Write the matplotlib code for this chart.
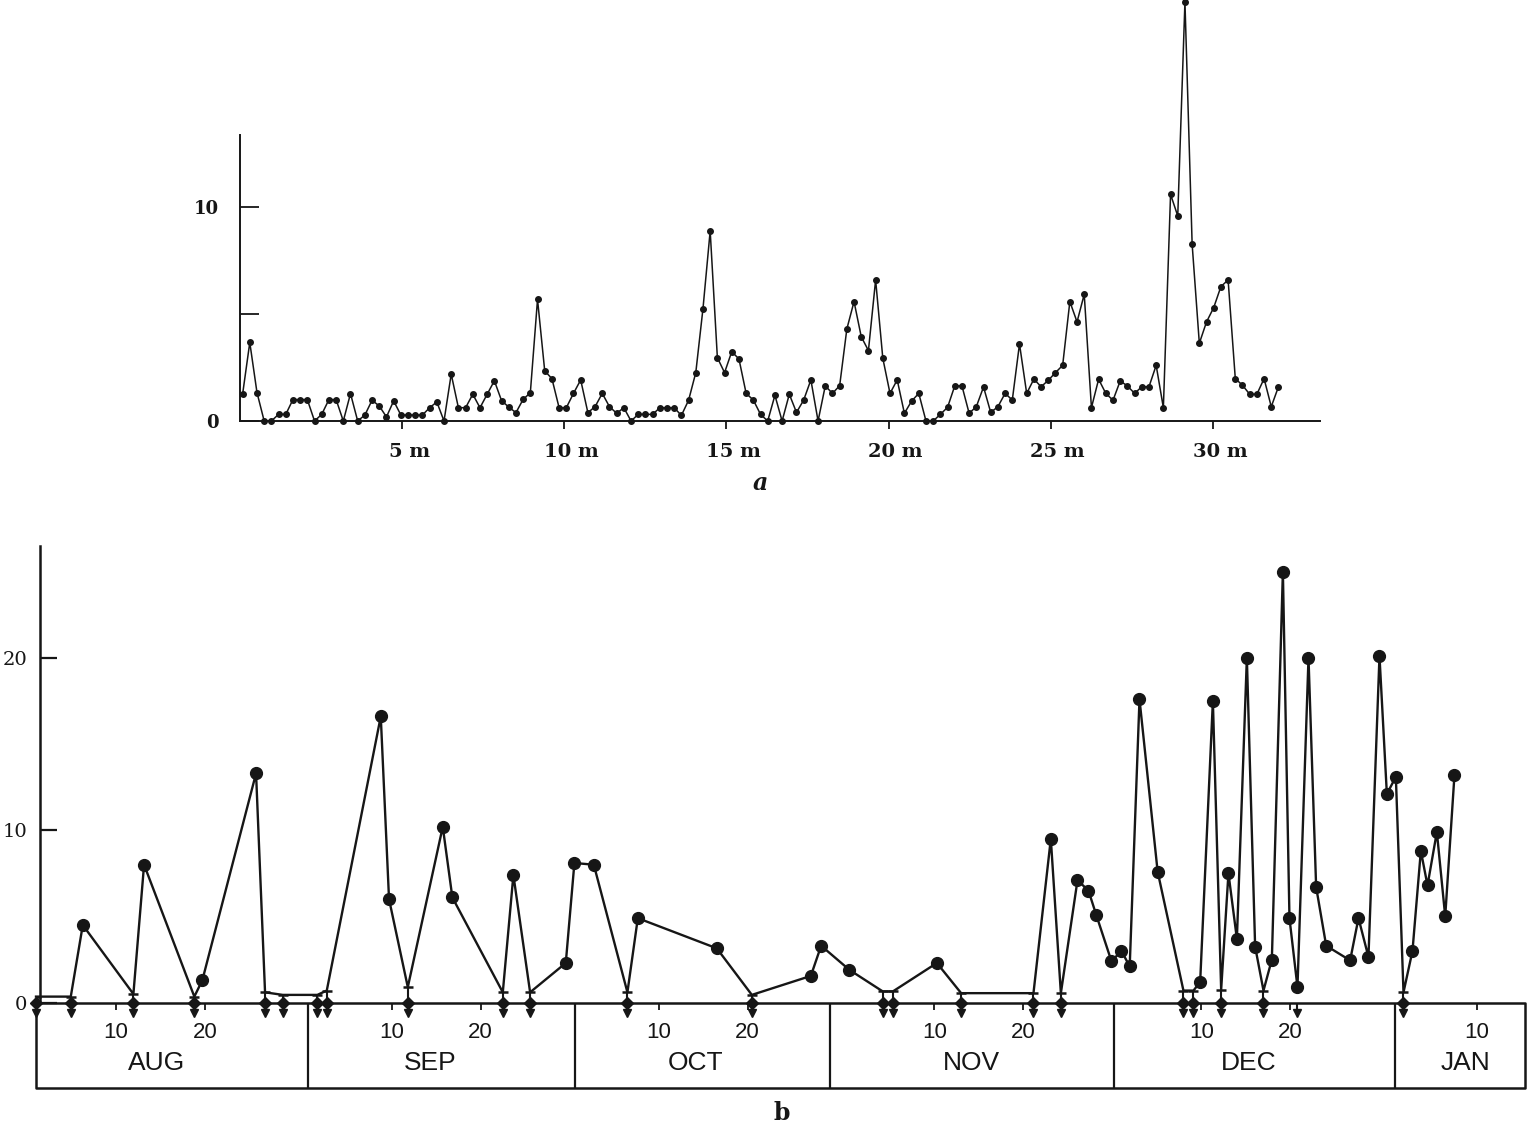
import numpy as np
import matplotlib
matplotlib.use("Agg")
import matplotlib.pyplot as plt
from matplotlib.transforms import ScaledTranslation

# ---- panel a: counts, one sample about every 0.222 min ----
a_values = [1.25, 3.67, 1.33, 0, 0, 0.31, 0.31, 1.0, 1.0, 1.0,
            0, 0.31, 1.0, 1.0, 0, 1.28, 0, 0.28, 0.97, 0.7,
            0.19, 0.94, 0.28, 0.28, 0.28, 0.28, 0.62, 0.89, 0, 2.19,
            0.62, 0.62, 1.25, 0.62, 1.25, 1.88, 0.95, 0.65, 0.39, 1.01,
            1.32, 5.68, 2.34, 1.98, 0.62, 0.62, 1.29, 1.92, 0.39, 0.67,
            1.29, 0.67, 0.36, 0.62, 0, 0.31, 0.31, 0.31, 0.62, 0.62,
            0.62, 0.26, 0.97, 2.26, 5.25, 8.88, 2.96, 2.26, 3.24, 2.9,
            1.29, 0.98, 0.31, 0, 1.2, 0, 1.25, 0.4, 0.98, 1.92,
            0, 1.64, 1.29, 1.65, 4.3, 5.58, 3.94, 3.29, 6.59, 2.93,
            1.29, 1.92, 0.36, 0.93, 1.29, 0, 0, 0.31, 0.64, 1.64,
            1.64, 0.36, 0.67, 1.59, 0.4, 0.67, 1.29, 0.98, 3.6, 1.29,
            1.96, 1.6, 1.9, 2.26, 2.6, 5.58, 4.63, 5.92, 0.62, 1.95,
            1.29, 0.97, 1.87, 1.64, 1.29, 1.6, 1.6, 2.6, 0.62, 10.59,
            9.58, 19.58, 8.26, 3.63, 4.63, 5.3, 6.28, 6.59, 1.98, 1.67,
            1.25, 1.25, 1.98, 0.67, 1.6]
a_start_min = 0.08
a_step_min = 0.2218
a_ticks = [5, 10, 15, 20, 25, 30]
a_ticklabels = ['5 m', '10 m', '15 m', '20 m', '25 m', '30 m']

# ---- panel b: day number counted from 1 Aug (= 1) ----
b_days = [6.26, 13.15, 19.70, 25.74, 39.76, 40.69, 46.73, 47.81, 54.67, 60.56,
          61.53, 63.71, 68.66, 77.54, 88.11, 89.27, 92.45, 102.28, 115.09, 118.09,
          119.32, 120.19, 121.91, 123.03, 123.96, 125.06, 127.10, 131.88, 133.31, 135.06,
          136.01, 137.13, 138.06, 139.94, 141.18, 141.92, 142.82, 144.06, 144.92, 146.05,
          148.74, 149.68, 150.80, 152.04, 152.87, 153.88, 155.75, 156.69, 157.44, 158.49,
          159.43, 160.47]
b_values = [4.5, 8.0, 1.3, 13.3, 16.6, 6.0, 10.2, 6.1, 7.4, 2.3,
            8.1, 8.0, 4.9, 3.15, 1.55, 3.3, 1.9, 2.3, 9.5, 7.1,
            6.5, 5.1, 2.4, 3.0, 2.1, 17.6, 7.6, 1.2, 17.5, 7.5,
            3.7, 20.0, 3.25, 2.5, 25.0, 4.9, 0.9, 20.0, 6.7, 3.3,
            2.45, 4.9, 2.65, 20.1, 12.1, 13.1, 3.0, 8.8, 6.8, 9.9,
            5.0, 13.2]
# upper limits (day, level of the bar)
lim_days = [1.0, 4.91, 11.95, 18.80, 26.75, 28.74, 32.63, 33.69, 42.80, 53.48,
            56.55, 67.49, 81.48, 96.20, 97.33, 105.01, 113.14, 116.22, 130.0, 131.13,
            134.24, 139.0, 154.74]
lim_levels = [0.35, 0.35, 0.5, 0.35, 0.6, 0.45, 0.45, 0.7, 0.9, 0.6,
              0.6, 0.6, 0.45, 0.65, 0.65, 0.55, 0.55, 0.55, 0.7, 0.7,
              0.75, 0.7, 0.6]
arrow_days = [142.82]

month_names = ['AUG', 'SEP', 'OCT', 'NOV', 'DEC', 'JAN']
month_label_days = [14.6, 45.3, 75.1, 106.2, 137.3, 161.7]
month_edges = [31.6, 61.6, 90.3, 122.2, 153.8]
day_ticks = [10, 20, 41, 51, 71, 81, 102, 112, 132, 142, 163]
day_ticklabels = ['10', '20', '10', '20', '10', '20', '10', '20', '10', '20', '10']

ink = '#161616'
W, H = 1528, 1125
fig = plt.figure(figsize=(W / 100, H / 100), dpi=100)


def rect(x0, y0, x1, y1):
    return [x0 / W, 1 - y1 / H, (x1 - x0) / W, (y1 - y0) / H]


# panel a
axa = fig.add_axes(rect(240, 0, 1320, 421))
t = a_start_min + a_step_min * np.arange(len(a_values))
axa.plot(t, a_values, '-o', color=ink, lw=1.1, ms=4.0, clip_on=False, zorder=3)
axa.set_xlim(0, 33.3)
axa.set_ylim(0, 19.67)
for s in ['top', 'right']:
    axa.spines[s].set_visible(False)
axa.spines['left'].set_bounds(0, 13.36)
for s in ['left', 'bottom']:
    axa.spines[s].set_linewidth(1.4)
    axa.spines[s].set_color(ink)
axa.set_yticks([0, 5, 10])
axa.set_yticklabels(['0', '', '10'], family='DejaVu Serif', weight='bold', fontsize=13)
axa.set_xticks(a_ticks)
axa.set_xticklabels(a_ticklabels, family='DejaVu Serif', weight='bold', fontsize=14)
axa.tick_params(axis='y', direction='in', length=14, width=1.3, pad=15, colors=ink)
axa.tick_params(axis='x', direction='out', length=6, width=1.3, pad=10, colors=ink)
for lab in axa.get_xticklabels():
    lab.set_transform(lab.get_transform() + ScaledTranslation(0.07, 0, fig.dpi_scale_trans))
fig.text(760 / W, 1 - 483 / H, 'a', ha='center', va='center', family='DejaVu Serif',
         style='italic', weight='bold', fontsize=17, color=ink)

# panel b
x_left, x_right = 1.0, 168.4
y_bot = -4.95
axb = fig.add_axes(rect(36, 544, 1525, 1088))
axb.set_xlim(x_left, x_right)
axb.set_ylim(y_bot, 26.6)
for s in ['top', 'right', 'bottom']:
    axb.spines[s].set_visible(False)
axb.spines['left'].set_position(('data', 1.45))
axb.spines['left'].set_bounds(0, 26.5)
axb.spines['left'].set_linewidth(1.8)
axb.spines['left'].set_color(ink)
axb.set_xticks([])
axb.set_yticks([0, 10, 20])
axb.set_yticklabels(['0', '10', '20'], family='DejaVu Serif', fontsize=14)
axb.tick_params(axis='y', direction='in', length=12, width=1.6, pad=9, colors=ink)

# line through detections and limit bars
pts = sorted(list(zip(b_days, b_values)) + list(zip(lim_days, lim_levels)))
axb.plot([p[0] for p in pts], [p[1] for p in pts], color=ink, lw=1.7, zorder=2, clip_on=False)
axb.plot(b_days, b_values, 'o', color=ink, ms=8.5, zorder=3, clip_on=False)

# upper limit glyphs
axb.vlines(lim_days, -0.55, lim_levels, color=ink, lw=1.5, zorder=3)
axb.plot(lim_days, lim_levels, '_', color=ink, ms=7, mew=1.8, zorder=3)
axb.plot(lim_days, [0] * len(lim_days), 'D', color=ink, ms=6.5, zorder=4, clip_on=False)
axb.plot(lim_days, [-0.6] * len(lim_days), 'v', color=ink, ms=5.5, zorder=4, clip_on=False)
axb.vlines(arrow_days, -0.55, 0, color=ink, lw=1.5, zorder=3)
axb.plot(arrow_days, [-0.6] * len(arrow_days), 'v', color=ink, ms=5.5, zorder=4)

# month box
axb.plot([x_left, x_right, x_right, x_left, x_left], [0, 0, y_bot, y_bot, 0],
         color=ink, lw=1.8, clip_on=False, zorder=1)
axb.vlines(month_edges, y_bot, 0, color=ink, lw=1.6)
axb.vlines(day_ticks, -0.45, 0, color=ink, lw=1.3)
for d, lab in zip(day_ticks, day_ticklabels):
    axb.text(d, -1.74, lab, ha='center', va='center', family='Liberation Sans',
             fontsize=16, color=ink)
for d, lab in zip(month_label_days, month_names):
    axb.text(d, -3.5, lab, ha='center', va='center', family='Liberation Sans',
             fontsize=19, color=ink)
fig.text(782 / W, 1 - 1113 / H, 'b', ha='center', va='center', family='DejaVu Serif',
         weight='bold', fontsize=17, color=ink)

fig.savefig('out.png', dpi=100, facecolor='white')
